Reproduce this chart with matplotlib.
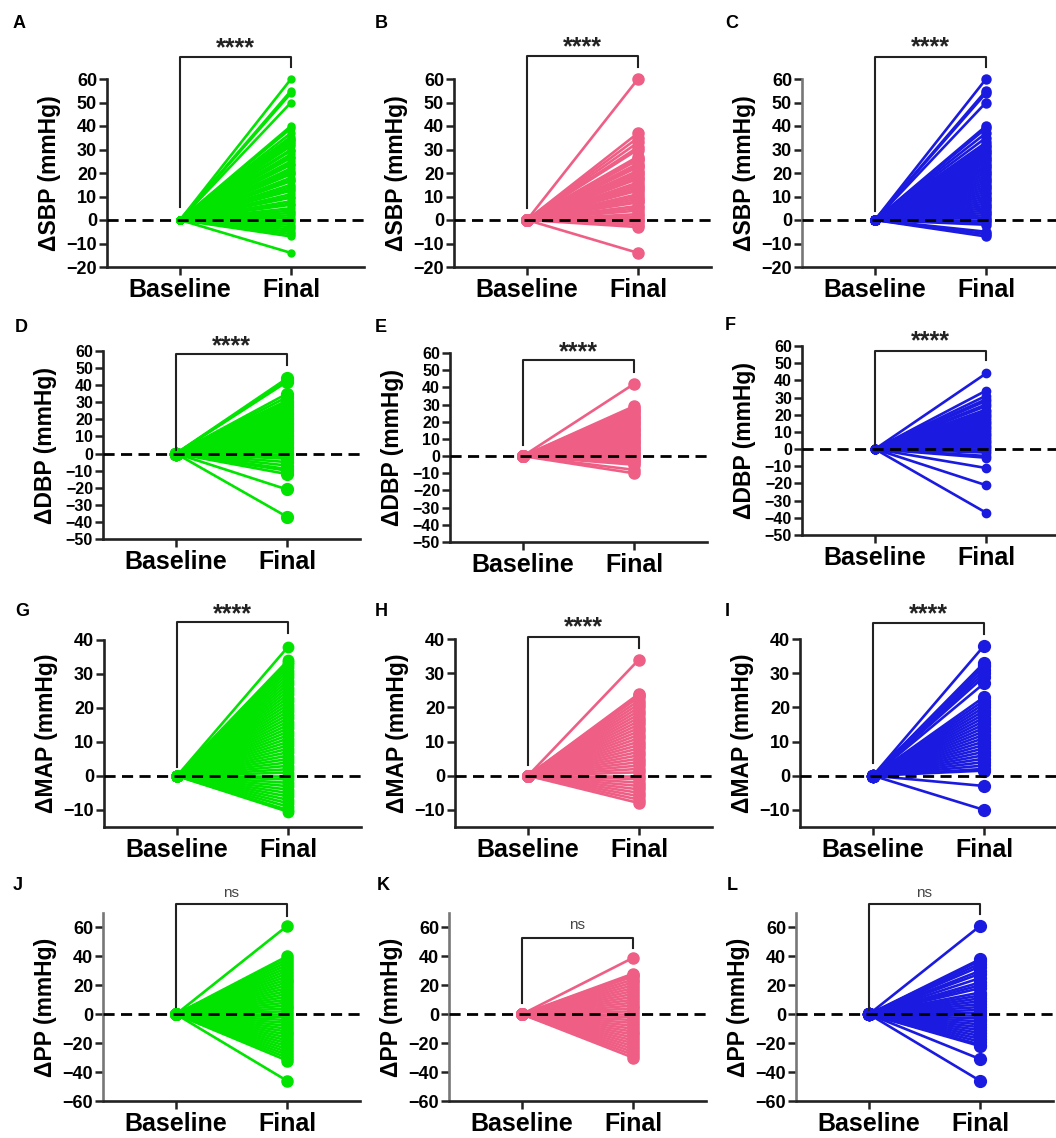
import matplotlib
matplotlib.use('Agg')
import matplotlib.pyplot as plt

plt.rcParams['font.family'] = ['Liberation Sans', 'DejaVu Sans']

# change from baseline to final, one value per subject
sbp_green = [60, 55, 54, 50, 40, 39, 37, 35.5, 34.5, 34, 33, 32.5, 31.5, 30, 29.5, 28, 27, 26.5,
             25, 24, 23.5, 22, 21, 20, 19.5, 18, 17, 16.5, 15, 14, 13, 12.5, 11, 10, 9.5, 8, 7,
             6.5, 5, 4, 3, 2, 1, 0, -1, -2, -3, -4, -5, -6, -7, -14]
sbp_pink = [60, 37, 35, 33, 31, 30, 27, 26, 25.5, 24, 23, 22.5, 21, 20, 19, 18, 17.5, 16, 15,
            14, 13, 12.5, 11, 10, 9, 8, 7.5, 6, 5, 4, 2.5, 1.5, 0.5, 0, -1, -2, -3, -14]
sbp_blue = [60, 55, 54, 50, 40, 39, 37, 35, 33, 32, 31, 30, 29, 28, 27, 26, 25, 24, 23, 22, 21,
            20, 19, 18, 17, 16, 15, 14, 13, 12, 11, 10, 9, 8, 7, 6, 5, 4, 3, 2, 1, 0, -1, -2,
            -5, -6, -7]
dbp_green = [44, 43, 42, 35, 33, 31, 30, 29, 28, 27, 26, 25, 24, 23, 22, 21, 20, 19, 18, 17, 16,
             15, 14, 13, 12, 11, 10, 9, 8, 7, 6, 5, 4, 3, 2, 1, 0, -1, -2, -3, -5, -7, -9, -10,
             -12, -21, -37]
dbp_pink = [42, 29, 28, 27, 26, 25, 24, 23, 22, 21, 20, 19, 18, 17, 16, 15, 14, 13, 12, 11, 10,
            9, 8, 7, 6, 5, 4, 3, 2, 1, 0, -1, -2, -3, -4, -5, -8, -10]
dbp_blue = [44, 34, 31, 29, 28, 26, 25, 23, 22, 21, 20, 19, 18, 17, 16, 15, 14, 13, 12, 11, 10,
            9, 8, 7, 6, 5, 4, 3, 2, 1, 0, -1, -2, -4, -5, -11, -21, -37]
map_green = [38, 34, 33.5, 33, 32, 31, 30, 29, 28, 27, 26, 25, 24, 23, 22, 21, 20, 19, 18, 17,
             16, 15, 14, 13, 12, 11, 10, 9, 8, 7, 6, 5, 4, 3, 2, 1, 0, -1, -2, -3, -4, -5, -6,
             -7, -8, -9, -10, -10.5]
map_pink = [34, 24, 23.5, 23, 22, 21, 20, 19, 18, 17, 16, 15, 14, 13, 12, 11, 10, 9, 8, 7, 6, 5,
            4, 3, 2, 1, 0, -1, -2, -3, -4, -5, -6, -7, -8]
map_blue = [38, 33, 32.5, 32, 31, 30, 29, 27, 23, 22, 21, 20, 19, 18, 17, 16, 15, 14, 13, 12,
            11, 10, 9, 8, 7, 6, 5, 4, 3, 2, 1.5, -3, -10]
pp_green = [61, 40, 38, 36, 34, 32, 30, 28, 26, 24, 22, 20, 18, 16, 14, 12, 10, 8, 6, 4, 2, 0,
            -2, -4, -6, -8, -10, -12, -14, -16, -18, -20, -22, -24, -26, -28, -30, -32, -46]
pp_pink = [39, 28, 27, 26, 24, 22, 20, 18, 16, 14, 12, 10, 8, 6, 4, 2, 0, -2, -4, -6, -8, -10,
           -12, -14, -16, -18, -20, -22, -24, -26, -28, -30]
pp_blue = [61, 38, 37, 35, 33, 30, 28, 25, 22, 20, 18, 15, 13, 11, 9, 7, 5, 3, 1, -1, -3, -5,
           -7, -9, -11, -13, -15, -17, -19, -21, -22, -31, -46]

groups = ['Baseline', 'Final']
letters = ['A', 'B', 'C', 'D', 'E', 'F', 'G', 'H', 'I', 'J', 'K', 'L']
ylabels = ['ΔSBP (mmHg)', 'ΔDBP (mmHg)', 'ΔMAP (mmHg)', 'ΔPP (mmHg)']
signif = ['****', '****', '****', 'ns']
finals = [sbp_green, sbp_pink, sbp_blue, dbp_green, dbp_pink, dbp_blue,
          map_green, map_pink, map_blue, pp_green, pp_pink, pp_blue]
colors = ['#00e400', '#ef5f85', '#1a1ae0']

W, H = 1056, 1138
fig = plt.figure(figsize=(W / 100, H / 100), dpi=100)

# pixel layout: baseline tick x, axis top y, axis bottom y
px = [(180, 79, 267), (527, 79, 267), (875, 79, 267),
      (176, 351, 539), (523, 353, 542), (875, 346, 535),
      (177, 640, 827), (528, 639, 827), (873, 639, 827),
      (176, 913, 1101), (522, 913, 1101), (869, 913, 1101)]
ylims = [(-20, 60), (-50, 60), (-15, 40), (-60, 70)]
yticks = [range(-20, 61, 10), range(-50, 61, 10), range(-10, 41, 10), range(-60, 61, 20)]
ytick_fs = [13, 11.5, 13, 13]
# bracket: top, left leg bottom, right leg bottom, text y (data units)
brackets = [(69.4, 5.5, 65, 73), (69.8, 5, 65, 73.5), (69.4, 4, 65, 73.5),
            (58.3, 2, 52, 63), (55.9, 6.4, 49, 60.5), (57, 2.3, 51.8, 62.5),
            (45.3, 2.6, 42, 47.5), (40.7, 3.2, 37.4, 43.5), (44.8, 3.8, 41.5, 47.3),
            (76.5, 5, 68, 84), (53, 7.6, 46, 62), (76.5, 2.8, 69, 84)]
msizes = [5, 8, 6.5, 8.5, 8, 6, 7.5, 8, 8.5, 8, 8, 8.5]
letter_pos = [(13, 24), (375, 24), (725, 24), (15, 327), (375, 327), (725, 326),
              (15, 611), (375, 612), (725, 611), (13, 886), (377, 886), (727, 886)]
gray_spine = {'C', 'J', 'K', 'L'}

unit = 111
x0, x1 = -0.66, 1.66
for i, vals in enumerate(finals):
    row, col = divmod(i, 3)
    bx, top, bot = px[i]
    left = bx - (0 - x0) * unit
    width = (x1 - x0) * unit
    ax = fig.add_axes([left / W, 1 - bot / H, width / W, (bot - top) / H])
    ax.set_facecolor('none')
    c = colors[col]
    for v in vals:
        ax.plot([0, 1], [0, v], color=c, lw=1.9, marker='o', ms=msizes[i],
                mec=c, mfc=c, clip_on=False, zorder=2)
    ax.axhline(0, color='black', lw=2.0, ls=(0, (4, 2.3)), zorder=3)
    ax.set_xlim(x0, x1)
    ax.set_ylim(*ylims[row])
    ax.set_yticks(list(yticks[row]))
    ax.set_xticks([0, 1])
    ax.set_xticklabels(groups, fontsize=18, fontweight='bold')
    for t in ax.get_yticklabels():
        t.set_fontsize(ytick_fs[row])
        t.set_fontweight('bold')
    ax.tick_params(axis='both', direction='out', length=6, width=1.8, color='#222')
    ax.tick_params(axis='y', pad=1.0)
    ax.tick_params(axis='x', pad=2)
    for s in ['top', 'right']:
        ax.spines[s].set_visible(False)
    ax.spines['bottom'].set_linewidth(1.9)
    ax.spines['left'].set_linewidth(1.9)
    ax.spines['bottom'].set_color('#222')
    ax.spines['left'].set_color('#777' if letters[i] in gray_spine else '#222')
    ax.set_ylabel(ylabels[row], fontsize=16.5, fontweight='bold')
    ax.yaxis.set_label_coords(-(bx - left - 28) / width, 0.5)

    btop, lbot, rbot, ty = brackets[i]
    ax.plot([0, 0, 1, 1], [lbot, btop, btop, rbot], color='#222', lw=1.5,
            clip_on=False, zorder=4)
    if signif[row] == 'ns':
        ax.text(0.5, ty, 'ns', ha='center', va='center', fontsize=11,
                color='#444', clip_on=False)
    else:
        ax.text(0.5, ty, signif[row], ha='center', va='center', fontsize=18,
                fontweight='bold', color='#222', clip_on=False)

    lx, ly = letter_pos[i]
    fig.text(lx / W, 1 - ly / H, letters[i], fontsize=13, fontweight='bold',
             ha='left', va='center')

fig.savefig('out.png', dpi=100)
